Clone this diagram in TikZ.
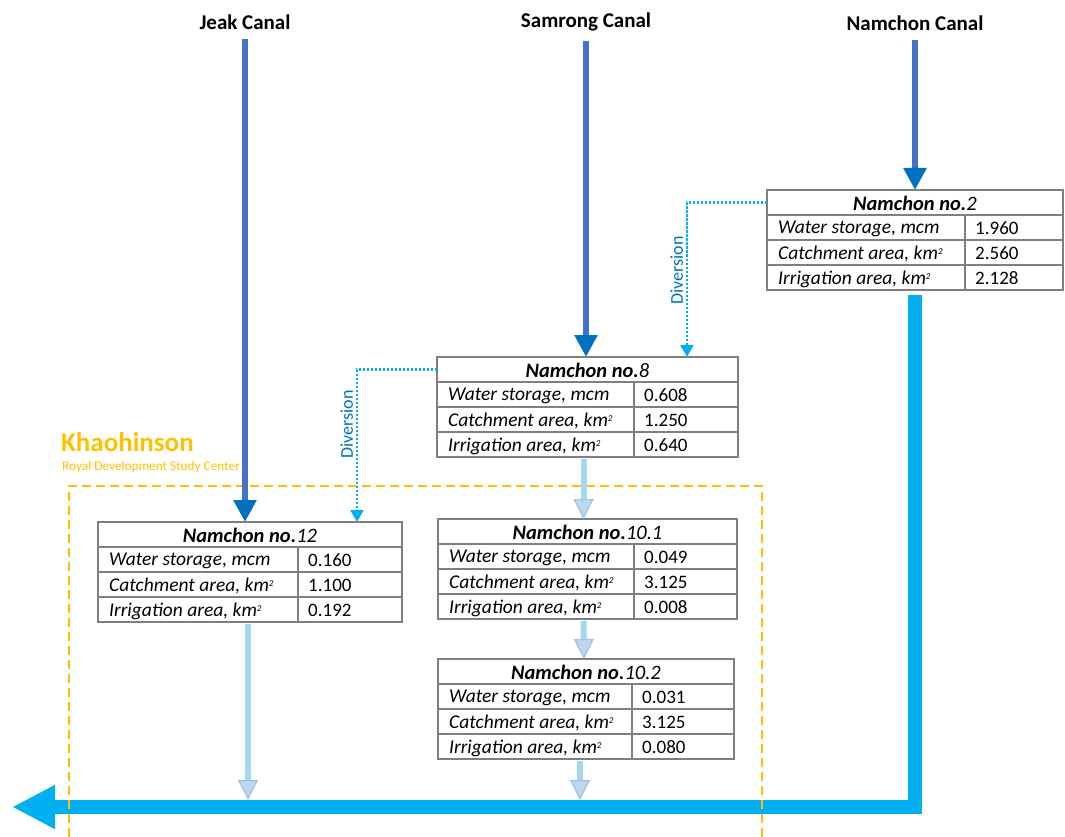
\documentclass[tikz,border=0pt]{standalone}
\usepackage{fontspec}
\setmainfont{Carlito}
\usetikzlibrary{calc,arrows.meta}
\definecolor{canalblue}{HTML}{4472C4}
\definecolor{canalhead}{HTML}{0070C0}
\definecolor{mainblue}{HTML}{00B0F0}
\definecolor{feedline}{HTML}{A3D9EE}
\definecolor{feedhead}{HTML}{BDD7EE}
\definecolor{feededge}{HTML}{9DC3E6}
\definecolor{centreorange}{HTML}{FFC000}
\definecolor{gridgray}{HTML}{7F7F7F}

\newcommand{\kmsq}{km\raisebox{5pt}{\fontsize{9}{9}\selectfont 2}}
% one reservoir table: name, left, top, width, split, number, three values
\newcommand{\damtab}[9]{%
  \node[tabframe,minimum width=#4pt,anchor=north west] (#1) at (#2,#3) {};
  \foreach \r in {25,50,75}
    \draw[tabline] ($(#1.north west)+(0,\r)$) -- ($(#1.north east)+(0,\r)$);
  \draw[tabline] ($(#1.north west)+(#5,25)$) -- ($(#1.south west)+(#5,0)$);
  \node[tabhead] (#1t) at ($(#1.north)+(0,13.5)$) {\textbf{Namchon no.}#6};
  \node[tabtext,anchor=west] (#1a) at ($(#1.north west)+(11,39)$) {Water storage, mcm};
  \node[tabtext,anchor=west] (#1b) at ($(#1.north west)+(11,64)$) {Catchment area, \kmsq};
  \node[tabtext,anchor=west] (#1c) at ($(#1.north west)+(11,89)$) {Irrigation area, \kmsq};
  \node[tabvalue,anchor=west] (#1x) at ($(#1.north west)+(#5+10,38.5)$) {#7};
  \node[tabvalue,anchor=west] (#1y) at ($(#1.north west)+(#5+10,63.5)$) {#8};
  \node[tabvalue,anchor=west] (#1z) at ($(#1.north west)+(#5+10,88.5)$) {#9};
}

\begin{document}
\begin{tikzpicture}[x=1pt,y=-1pt,
  tabframe/.style={draw=gridgray,line width=1.2pt,fill=white,minimum height=100pt,inner sep=0pt,outer sep=0pt},
  tabline/.style={draw=gridgray,line width=1.2pt},
  tabtext/.style={inner sep=0pt,font=\fontsize{19.5}{21}\selectfont\itshape},
  tabvalue/.style={inner sep=0pt,font=\fontsize{19}{21}\selectfont},
  tabhead/.style={inner sep=0pt,font=\fontsize{20.5}{22}\selectfont\itshape},
  canaltitle/.style={font=\bfseries\fontsize{21}{24}\selectfont},
  canal/.style={draw=canalblue,line width=6pt,shorten <=6pt,-{Triangle[width=22pt,length=22pt,color=canalhead]}},
  feed/.style={draw=feedline,line width=6pt,shorten <=2pt,-{Triangle[width=20pt,length=20pt,fill=feedhead,color=feededge,line width=1.2pt]}},
  divert/.style={draw=mainblue,line width=2.2pt,dash pattern=on 2.2pt off 1.8pt,-{Triangle[width=13pt,length=12pt]}},
  divlabel/.style={rotate=90,anchor=south,inner sep=3pt,text=canalhead,font=\fontsize{18}{20}\selectfont},
  mainflow/.style={draw=mainblue,line width=14pt,line join=miter,-{Triangle[width=41pt,length=43pt]}},
  centrebox/.style={draw=centreorange,line width=2pt,dash pattern=on 9pt off 5pt}]
\useasboundingbox (0,0) rectangle (1065,837);

\node[canaltitle] (jeak) at (245,22) {Jeak Canal};
\node[canaltitle] (samrong) at (586,22) {Samrong Canal};
\node[canaltitle] (namchon) at (915,23) {Namchon Canal};

\damtab{n2}{767}{190}{296}{198}{2}{1.960}{2.560}{2.128}
\damtab{n8}{437}{357}{301}{197}{8}{0.608}{1.250}{0.640}
\damtab{n12}{98}{522}{304}{200}{12}{0.160}{1.100}{0.192}
\damtab{n101}{438}{519}{299}{196}{10.1}{0.049}{3.125}{0.008}
\damtab{n102}{438}{659}{296}{194}{10.2}{0.031}{3.125}{0.080}

\coordinate (mouth) at (12,807);
\coordinate (chantop) at (0,800);
\draw[mainflow] ($(n2.south)+(0,5)$) |- (mouth);

\draw[centrebox] (69,837) |- (762,486) -- (762,837);
\node[anchor=west,inner sep=0pt,text=centreorange,font=\bfseries\fontsize{27}{30}\selectfont] (khao) at (61,442) {Khaohinson};
\node[anchor=west,inner sep=0pt,text=centreorange,font=\fontsize{13.3}{15}\selectfont] (rdsc) at (62,467) {Royal Development Study Center};

\draw[canal] (jeak) -- (jeak |- n12.north);
\draw[canal] (samrong) -- (samrong |- n8.north);
\draw[canal] (namchon) -- (namchon |- n2.north);

\draw[divert] ($(n2.north west)+(0,12.5)$) -| ($(n8.north east)+(-51,0)$)
  node[divlabel,pos=.72] {Diversion};
\draw[divert] ($(n8.north west)+(0,12.5)$) -| ($(n12.north east)+(-45,0)$)
  node[divlabel,pos=.68] {Diversion};

\draw[feed] ($(n8.south)+(-4,0)$) -- ($(n101.north)+(-4,0)$);
\draw[feed] ($(n101.south)+(-4,0)$) -- ($(n102.north)+(-2,0)$);
\draw[feed] ($(n102.south)+(-6,0)$) -- ($(n102.south |- chantop)+(-6,0)$);
\draw[feed] ($(n12.south)+(-2,0)$) -- ($(n12.south |- chantop)+(-2,0)$);
\end{tikzpicture}
\end{document}
